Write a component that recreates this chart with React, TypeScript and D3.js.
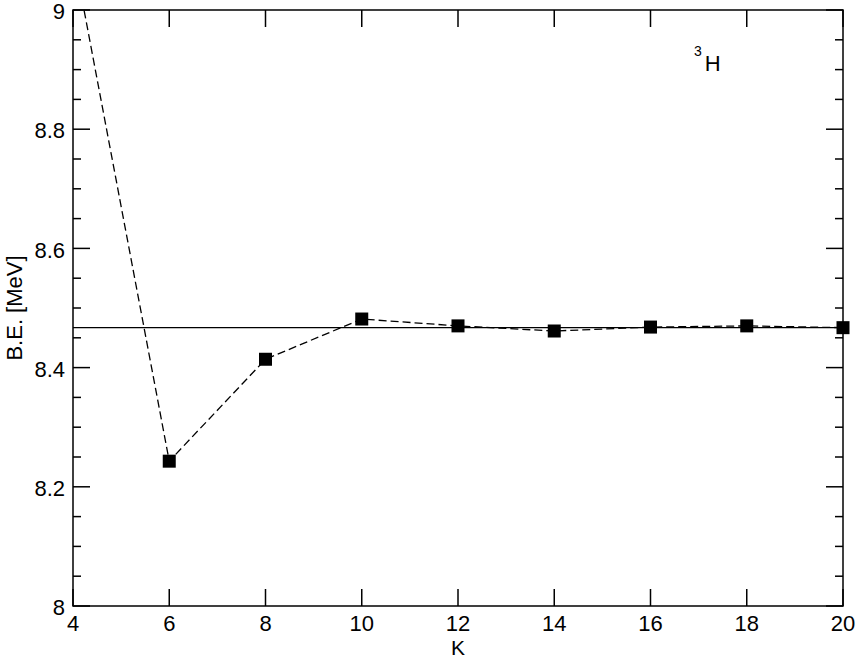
import React, { useEffect, useRef } from 'react';
import * as d3 from 'd3';

// binding energy of 3H vs. K (hyperspherical harmonics order)
const kValues = [4, 6, 8, 10, 12, 14, 16, 18, 20];
const beValues = [9.098, 8.243, 8.414, 8.4815, 8.470, 8.4614, 8.468, 8.470, 8.467];
const exactBE = 8.467;
const xTicks = [4, 6, 8, 10, 12, 14, 16, 18, 20];
const yTicks = [8, 8.2, 8.4, 8.6, 8.8, 9];

const W = 857, H = 660;
const margin = { top: 10, right: 14, bottom: 54, left: 73 };
const font = '"Liberation Sans", Arial, Helvetica, sans-serif';

export default function App() {
  const ref = useRef<SVGSVGElement>(null);

  useEffect(() => {
    const svg = d3.select(ref.current);
    svg.selectAll('*').remove();
    const width = W - margin.left - margin.right;
    const height = H - margin.top - margin.bottom;

    const x = d3.scaleLinear().domain([4, 20]).range([0, width]);
    const y = d3.scaleLinear().domain([8, 9]).range([height, 0]);

    svg.append('defs').append('clipPath').attr('id', 'plot-clip')
      .append('rect').attr('width', width).attr('height', height);

    const g = svg.append('g')
      .attr('transform', `translate(${margin.left},${margin.top})`);

    const data = kValues.map((k, i) => ({ k, v: beValues[i] }));

    // exact value line
    g.append('line')
      .attr('x1', 0).attr('x2', width)
      .attr('y1', y(exactBE)).attr('y2', y(exactBE))
      .attr('stroke', '#000').attr('stroke-width', 1.2);

    // dashed convergence curve
    const line = d3.line<{ k: number; v: number }>().x(d => x(d.k)).y(d => y(d.v));
    g.append('path')
      .datum(data)
      .attr('clip-path', 'url(#plot-clip)')
      .attr('d', line)
      .attr('fill', 'none')
      .attr('stroke', '#000')
      .attr('stroke-width', 1.3)
      .attr('stroke-dasharray', '8,4');

    // square markers (only those inside the y range)
    const s = 13;
    g.append('g')
      .selectAll('rect')
      .data(data.filter(d => d.v <= 9))
      .enter()
      .append('rect')
      .attr('x', d => x(d.k) - s / 2)
      .attr('y', d => y(d.v) - s / 2)
      .attr('width', s).attr('height', s)
      .attr('fill', '#000');

    // ticks: inward on all four sides
    const tickG = g.append('g').attr('stroke', '#000').attr('stroke-width', 1.5);
    xTicks.forEach(t => {
      tickG.append('line').attr('x1', x(t)).attr('x2', x(t)).attr('y1', height).attr('y2', height - 17);
      tickG.append('line').attr('x1', x(t)).attr('x2', x(t)).attr('y1', 0).attr('y2', 17);
    });
    const yMinor = d3.range(8, 9.0001, 0.05).filter(v => Math.abs(v * 5 - Math.round(v * 5)) > 1e-6);
    yTicks.forEach(t => {
      tickG.append('line').attr('x1', 0).attr('x2', 17).attr('y1', y(t)).attr('y2', y(t));
      tickG.append('line').attr('x1', width).attr('x2', width - 17).attr('y1', y(t)).attr('y2', y(t));
    });
    yMinor.forEach(t => {
      tickG.append('line').attr('x1', 0).attr('x2', 8).attr('y1', y(t)).attr('y2', y(t));
      tickG.append('line').attr('x1', width).attr('x2', width - 8).attr('y1', y(t)).attr('y2', y(t));
    });

    // frame
    g.append('rect')
      .attr('width', width).attr('height', height)
      .attr('fill', 'none').attr('stroke', '#000').attr('stroke-width', 1.5);

    // tick labels
    g.append('g').selectAll('text').data(xTicks).enter().append('text')
      .attr('x', d => x(d)).attr('y', height + 25)
      .attr('text-anchor', 'middle')
      .attr('font-family', font).attr('font-size', 22).attr('fill', '#000')
      .text(d => String(d));

    g.append('g').selectAll('text').data(yTicks).enter().append('text')
      .attr('x', -8).attr('y', d => y(d))
      .attr('dy', '0.42em')
      .attr('text-anchor', 'end')
      .attr('font-family', font).attr('font-size', 22).attr('fill', '#000')
      .text(d => (Number.isInteger(d) ? String(d) : d.toFixed(1)));

    // axis titles
    g.append('text')
      .attr('x', width / 2).attr('y', height + 49)
      .attr('text-anchor', 'middle')
      .attr('font-family', font).attr('font-size', 21).attr('fill', '#000')
      .text('K');

    svg.append('text')
      .attr('transform', `translate(22,${margin.top + height / 2}) rotate(-90)`)
      .attr('text-anchor', 'middle')
      .attr('font-family', font).attr('font-size', 22).attr('fill', '#000')
      .text('B.E. [MeV]');

    // nucleus label
    const lab = svg.append('text')
      .attr('x', 694).attr('y', 71)
      .attr('font-family', font).attr('font-size', 22).attr('fill', '#000');
    lab.append('tspan').attr('font-size', 14).attr('dy', -15).text('3');
    lab.append('tspan').attr('dy', 15).attr('dx', 3).text('H');
  }, []);

  return (
    <svg ref={ref} width={W} height={H}
      style={{ position: 'absolute', left: 0, top: 0, background: '#fff' }} />
  );
}
